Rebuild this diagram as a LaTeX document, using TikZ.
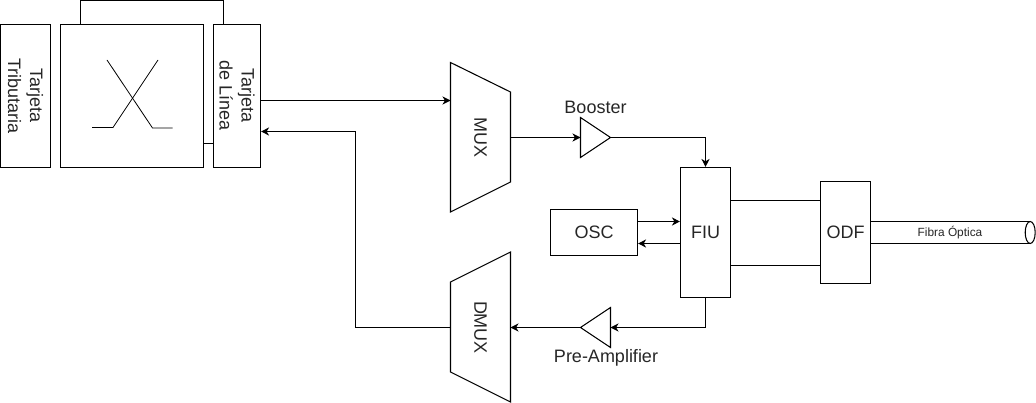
\documentclass[tikz,border=0pt]{standalone}
\usepackage{fontspec}
\setmainfont{Liberation Sans}
\usetikzlibrary{arrows.meta,shapes.geometric}
\tikzset{
  blockbox/.style={draw=black,line width=0.8pt,inner sep=0pt,text=black!85,font=\fontsize{13.5pt}{16.5pt}\selectfont,align=center},
  vertbox/.style={blockbox,rotate=-90},
  wire/.style={draw=black,line width=0.8pt},
  arrowwire/.style={wire,-{Stealth[length=6pt,width=6pt,inset=1.8pt]}},
  shapeline/.style={draw=black,line width=0.8pt,line join=miter},
  thinline/.style={draw=black,line width=0.6pt},
  lbl/.style={inner sep=0pt,text=black!85,font=\fontsize{13.5pt}{16.5pt}\selectfont},
  smalllbl/.style={inner sep=0pt,text=black!85,font=\fontsize{8.9pt}{10pt}\selectfont}
}
\begin{document}
\begin{tikzpicture}[x=0.75pt,y=-0.75pt]
\useasboundingbox (0,0) rectangle (1036,403);
% rotated boxes
\node[vertbox,minimum width=107.1pt,minimum height=37.5pt] (trib) at (25.5,95.75) {Tarjeta\\Tributaria};
\node[blockbox,minimum width=107.25pt,minimum height=107.1pt] (matrix) at (132,95.75) {};
\node[vertbox,minimum width=107.1pt,minimum height=35.25pt] (linea) at (237,95.75) {Tarjeta\\de Línea};
% MUX / DMUX
\coordinate (muxA) at (450.5,62.5);
\coordinate (muxB) at (510.5,92);
\coordinate (muxC) at (510.5,182);
\coordinate (muxD) at (450.5,212);
\draw[shapeline] (muxA) -- (muxB) -- (muxC) -- (muxD) -- cycle;
\node[lbl,rotate=-90] (mux) at (480.5,137.5) {MUX};
\coordinate (dmuxA) at (450.5,282);
\coordinate (dmuxB) at (510.5,252);
\coordinate (dmuxC) at (510.5,402);
\coordinate (dmuxD) at (450.5,372);
\draw[shapeline] (dmuxA) -- (dmuxB) -- (dmuxC) -- (dmuxD) -- cycle;
\node[lbl,rotate=-90] (dmux) at (480.5,327.5) {DMUX};
% amplifiers
\coordinate (boostA) at (580.5,117.5);
\coordinate (boostTip) at (610.5,137.5);
\coordinate (boostB) at (580.5,157.5);
\draw[shapeline] (boostA) -- (boostTip) -- (boostB) -- cycle;
\coordinate (preA) at (610.5,307.5);
\coordinate (preTip) at (580.5,327.5);
\coordinate (preB) at (610.5,347.5);
\draw[shapeline] (preA) -- (preTip) -- (preB) -- cycle;
\node[lbl] (boostlbl) at (595.5,107.5) {Booster};
\node[lbl] (prelbl) at (606,357.5) {Pre-Amplifier};
% right-hand blocks
\node[blockbox,minimum width=37.5pt,minimum height=97.5pt] (fiu) at (705.5,232.5) {FIU};
\node[blockbox,minimum width=65.25pt,minimum height=34.1pt] (osc) at (594,232.5) {OSC};
\node[blockbox,minimum width=37.5pt,minimum height=76.5pt] (odf) at (845.5,232.5) {ODF};
% fibre cylinder
\coordinate (fibTop) at (1030,221.5);
\coordinate (fibBot) at (1030,243.5);
\draw[wire] (odf.east |- fibTop) -- (fibTop);
\draw[wire] (odf.east |- fibBot) -- (fibBot);
\node[draw=black,line width=0.8pt,ellipse,inner sep=0pt,minimum width=7.5pt,minimum height=16.5pt] (fibCap) at (1030.2,232.5) {};
\node[smalllbl] (fibra) at (950,232.5) {Fibra Óptica};
% X inside the matrix
\coordinate (xa) at (92,127.5);
\coordinate (xb) at (113,127.5);
\coordinate (xc) at (158,60);
\coordinate (xd) at (107,60);
\coordinate (xe) at (152.5,128);
\coordinate (xf) at (172.5,128);
\draw[thinline] (xa) -- (xb) -- (xc);
\draw[thinline] (xd) -- (xe) -- (xf);
% matrix links
\coordinate (topL) at (80.5,0.5);
\coordinate (topR) at (223.5,0.5);
\draw[wire] (topL |- matrix.north) -- (topL) -- (topR) -- (topR |- linea.west);
\coordinate (sideY) at (0,143.5);
\draw[wire] (matrix.east |- sideY) -- (linea.south |- sideY);
% signal path
\coordinate (outY) at (0,100.5);
\draw[arrowwire] (linea.north |- outY) -- (muxA |- outY);
\coordinate (backTurn) at (355.5,327.5);
\coordinate (backTop) at (355.5,131.5);
\draw[wire] (dmuxA |- backTurn) -- (backTurn) -- (backTop);
\draw[arrowwire] (backTop) -- (linea.north |- backTop);
\draw[arrowwire] (muxB |- boostTip) -- (boostA |- boostTip);
\draw[arrowwire] (boostTip) -- (fiu.north |- boostTip) -- (fiu.north);
\draw[wire] (fiu.south) -- (fiu.south |- preTip);
\draw[arrowwire] (fiu.south |- preTip) -- (preA |- preTip);
\draw[arrowwire] (preTip) -- (dmuxB |- preTip);
% OSC and FIU
\coordinate (oscY1) at (0,221.5);
\coordinate (oscY2) at (0,243.5);
\draw[arrowwire] (osc.east |- oscY1) -- (fiu.west |- oscY1);
\draw[arrowwire] (fiu.west |- oscY2) -- (osc.east |- oscY2);
% FIU and ODF
\coordinate (linkY1) at (0,200.5);
\coordinate (linkY2) at (0,265.5);
\draw[wire] (fiu.east |- linkY1) -- (odf.west |- linkY1);
\draw[wire] (fiu.east |- linkY2) -- (odf.west |- linkY2);
\end{tikzpicture}
\end{document}
